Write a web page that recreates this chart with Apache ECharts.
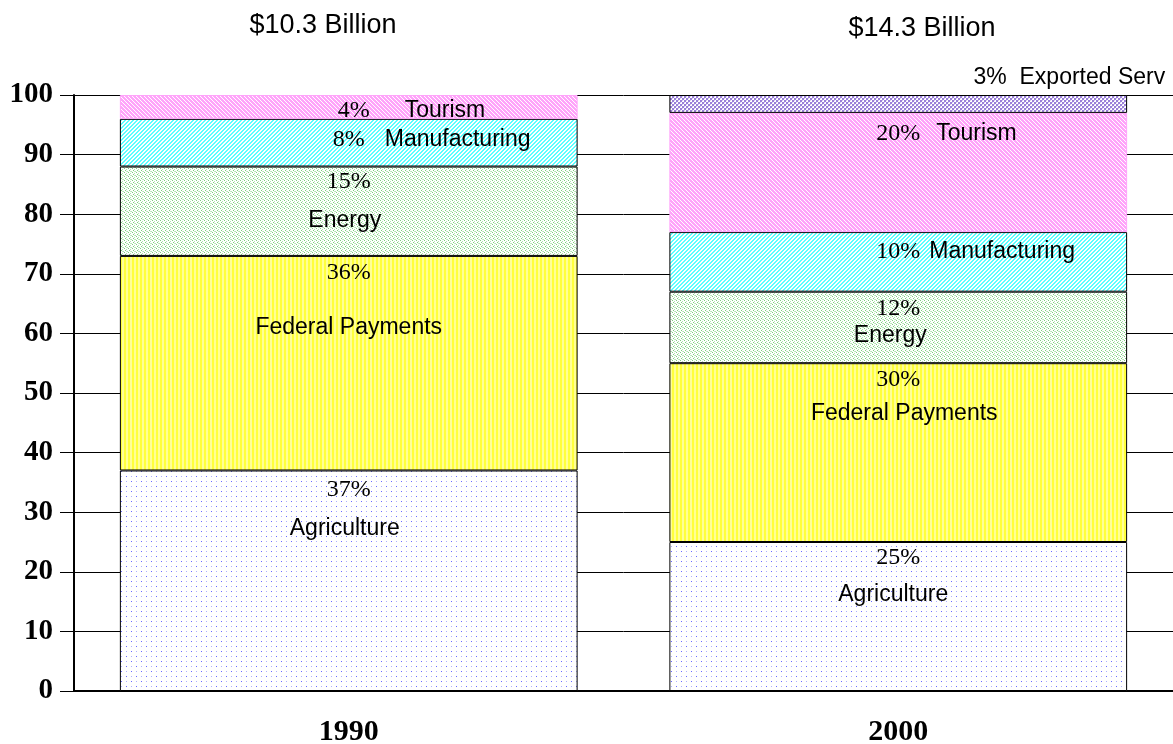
<!DOCTYPE html>
<html>
<head>
<meta charset="utf-8">
<script src="https://cdn.jsdelivr.net/npm/echarts@6/dist/echarts.min.js"></script>
<style>
  html, body { margin: 0; padding: 0; background: #fff; }
  #chart { width: 1173px; height: 744px; }
</style>
</head>
<body>
<div id="chart"></div>
<script>
// data
const years = ['1990', '2000'];
const totals = ['$10.3 Billion', '$14.3 Billion'];
const sectors = ['Agriculture', 'Federal Payments', 'Energy', 'Manufacturing', 'Tourism', 'Exported Serv'];
const share1990 = [37, 36, 15, 8, 4, null];
const share2000 = [25, 30, 12, 10, 20, 3];

const serif = 'Liberation Serif';
const sans = 'Liberation Sans';

// small canvas tiles for the fill patterns
function tile(w, h, draw) {
  const c = document.createElement('canvas');
  c.width = w; c.height = h;
  const g = c.getContext('2d');
  g.fillStyle = '#fff';
  g.fillRect(0, 0, w, h);
  draw(g);
  return { image: c, repeat: 'repeat' };
}
function px(g, col, x, y) { g.fillStyle = col; g.fillRect(x, y, 1, 1); }

const fills = {
  'Agriculture': tile(10, 10, g => {
    px(g, '#6a6aff', 1, 1); px(g, '#b0b0ff', 6, 1);
    px(g, '#b0b0ff', 1, 6); px(g, '#6a6aff', 6, 6);
  }),
  'Federal Payments': tile(4, 4, g => {
    g.fillStyle = '#ffff3c'; g.fillRect(0, 0, 2, 4);
    g.fillStyle = '#ffff96'; g.fillRect(2, 0, 2, 4);
  }),
  'Energy': tile(4, 4, g => {
    px(g, '#7ccf7c', 0, 0); px(g, '#b0e4b0', 2, 1);
    px(g, '#7ccf7c', 1, 2); px(g, '#b0e4b0', 3, 3);
    px(g, '#c4ecc4', 2, 3);
  }),
  'Manufacturing': tile(4, 4, g => {
    g.fillStyle = '#5cffff';
    for (let y = 0; y < 4; y++) {
      for (let x = 0; x < 4; x++) {
        if ((x + y) % 4 < 2) g.fillRect(x, y, 1, 1);
      }
    }
  }),
  'Tourism': tile(4, 4, g => {
    g.fillStyle = '#ffa4fa';
    for (let y = 0; y < 4; y++) {
      for (let x = 0; x < 4; x++) {
        if ((x - y + 4) % 4 !== 0) g.fillRect(x, y, 1, 1);
      }
    }
  }),
  'Exported Serv': tile(4, 4, g => {
    g.fillStyle = '#9a80d8';
    g.fillRect(0, 0, 2, 2); g.fillRect(2, 2, 2, 2);
    px(g, '#d6cbf2', 2, 0); px(g, '#d6cbf2', 0, 2);
  })
};

const borders = {
  'Tourism': '#ffa4fa'
};

// where each segment's label sits (one entry per year)
const labelPlace = {
  'Agriculture':      [{ mode: 'stack', dy: 7, gap: 54, nx: -4 }, { mode: 'stack', dy: 4, gap: 50, nx: -5 }],
  'Federal Payments': [{ mode: 'stack', dy: 5, gap: 86, nx: 0 },  { mode: 'stack', dy: 5, gap: 42, nx: 6 }],
  'Energy':           [{ mode: 'stack', dy: 3, gap: 54, nx: -4 }, { mode: 'stack', dy: 5, gap: 30, nx: -8 }],
  'Manufacturing':    [{ mode: 'inline', dx: -16, dy: -3, gap: 20 }, { mode: 'inline', dx: -22, dy: -10, gap: 9 }],
  'Tourism':          [{ mode: 'inline', dx: -11, dy: 4, gap: 35 },  { mode: 'inline', dx: -22, dy: -39, gap: 16 }],
  'Exported Serv':    [null,                                          { mode: 'above', dx: 267, dy: 1 }]
};

const pctStyle = { fontFamily: serif, fontSize: 24, color: '#000', lineHeight: 24 };
const nameStyle = { fontFamily: sans, fontSize: 23, color: '#000', lineHeight: 24 };

function makeLabel(name, value, place) {
  if (value == null || !place) return { show: false };
  if (place.mode === 'stack') {
    const pad = place.nx >= 0 ? [0, 0, 0, 2 * place.nx] : [0, -2 * place.nx, 0, 0];
    return {
      show: true,
      position: 'insideTop',
      distance: 0,
      offset: [0, place.dy],
      formatter: '{p|' + value + '%}\n{n|' + name + '}',
      rich: {
        p: pctStyle,
        n: Object.assign({}, nameStyle, { lineHeight: place.gap, padding: pad })
      }
    };
  }
  if (place.mode === 'inline') {
    return {
      show: true,
      position: 'inside',
      align: 'left',
      offset: [place.dx, place.dy],
      formatter: '{p|' + value + '%}{n|' + name + '}',
      rich: { p: pctStyle, n: Object.assign({}, nameStyle, { padding: [0, 0, 0, place.gap] }) }
    };
  }
  return {
    show: true,
    position: 'top',
    distance: 6,
    align: 'right',
    offset: [place.dx, place.dy],
    formatter: '{n|' + value + '%  ' + name + '}',
    rich: { n: nameStyle }
  };
}

const series = sectors.map((name, i) => {
  const vals = [share1990[i], share2000[i]];
  return {
    name: name,
    type: 'bar',
    stack: 'total',
    barWidth: '83.3%',
    itemStyle: {
      color: fills[name],
      borderColor: borders[name] || '#000',
      borderWidth: 1
    },
    data: vals.map((v, k) => ({
      value: v == null ? '-' : v,
      label: makeLabel(name, v, labelPlace[name][k])
    }))
  };
});

const chart = echarts.init(document.getElementById('chart'), null, { renderer: 'canvas' });
chart.setOption({
  animation: false,
  backgroundColor: '#fff',
  grid: { left: 74, right: 0, top: 95, bottom: 53, containLabel: false, outerBoundsMode: 'none' },
  xAxis: {
    type: 'category',
    data: years,
    axisLine: { lineStyle: { color: '#000', width: 2 } },
    axisTick: { alignWithLabel: true, length: 15, lineStyle: { color: '#000', width: 1 } },
    axisLabel: { fontFamily: serif, fontWeight: 'bold', fontSize: 30, color: '#000', margin: 26 }
  },
  yAxis: {
    type: 'value',
    min: 0,
    max: 100,
    interval: 10,
    axisLine: { show: true, lineStyle: { color: '#000', width: 2 } },
    axisTick: { show: true, length: 14, lineStyle: { color: '#000', width: 1 } },
    axisLabel: { fontFamily: serif, fontWeight: 'bold', fontSize: 29, color: '#000', margin: 21 },
    splitLine: { show: true, lineStyle: { color: '#000', width: 1 } }
  },
  graphic: [
    { type: 'text', x: 323, y: 26, style: { text: totals[0], font: '27px ' + sans, fill: '#000', align: 'center', verticalAlign: 'middle' } },
    { type: 'text', x: 922, y: 29, style: { text: totals[1], font: '27px ' + sans, fill: '#000', align: 'center', verticalAlign: 'middle' } }
  ],
  series: series
});
</script>
</body>
</html>
